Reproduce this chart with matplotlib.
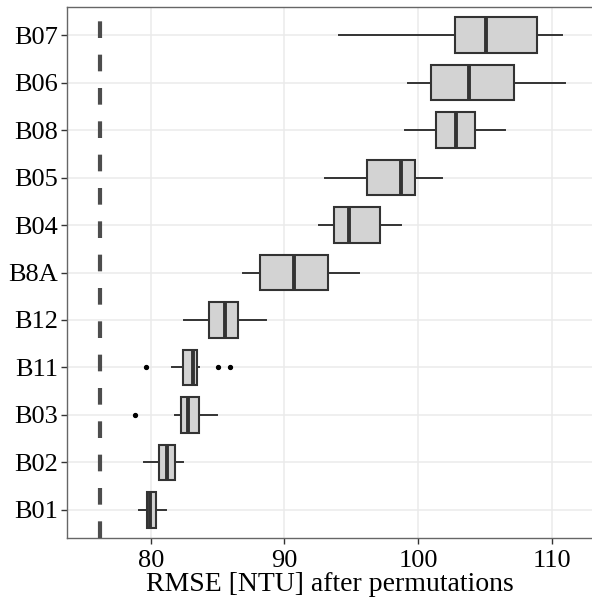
import matplotlib
matplotlib.use("Agg")
import matplotlib.pyplot as plt

plt.rcParams['font.family'] = ['Liberation Serif', 'DejaVu Serif']

# bands, bottom to top
bands = ["B01", "B02", "B03", "B11", "B12", "B8A", "B04", "B05", "B08", "B06", "B07"]
whislo = [79.10, 79.52, 81.84, 81.62, 82.52, 86.90, 92.56, 93.04, 99.05, 99.27, 94.10]
q1 =     [79.70, 80.60, 82.27, 82.42, 84.39, 88.17, 93.69, 96.18, 101.31, 100.96, 102.78]
med =    [79.95, 81.20, 82.79, 83.14, 85.53, 90.72, 94.81, 98.70, 102.81, 103.83, 105.05]
q3 =     [80.42, 81.82, 83.61, 83.46, 86.55, 93.28, 97.15, 99.77, 104.28, 107.20, 108.89]
whishi = [81.17, 82.44, 84.96, 83.61, 88.60, 95.60, 98.74, 101.81, 106.50, 111.00, 110.74]
outliers = [[], [], [78.80], [79.67, 85.03, 85.90], [], [], [], [], [], [], []]
baseline_rmse = 76.23

stats = []
for i, b in enumerate(bands):
    stats.append(dict(label=b, whislo=whislo[i], q1=q1[i], med=med[i],
                      q3=q3[i], whishi=whishi[i], fliers=outliers[i]))

fig = plt.figure(figsize=(5.92, 5.98), dpi=100)
ax = fig.add_axes([67 / 592, (598 - 538.3) / 598, 1 - 67 / 592, (538.3 - 6.7) / 598])

pos = list(range(1, len(bands) + 1))
ax.bxp(stats, positions=pos, vert=False, widths=0.75, patch_artist=True,
       showcaps=False,
       boxprops=dict(facecolor='#d3d3d3', edgecolor='#333333', linewidth=1.5),
       medianprops=dict(color='#333333', linewidth=2.8),
       whiskerprops=dict(color='#333333', linewidth=1.4),
       flierprops=dict(marker='o', markersize=2.8, markerfacecolor='black',
                       markeredgecolor='black', linestyle='none'),
       zorder=3)

ax.axvline(baseline_rmse, color='#4d4d4d', linewidth=3, linestyle=(0, (4, 4)), zorder=4)

ax.set_xlim(73.74, 113.0)
ax.set_ylim(0.4, len(bands) + 0.6)
ax.set_xticks([80, 90, 100, 110])
ax.set_yticks(pos)
ax.set_yticklabels(bands)
ax.grid(True, color='#ebebeb', linewidth=1.1, zorder=0)
ax.set_axisbelow(True)

for s in ['left', 'bottom', 'top']:
    ax.spines[s].set_color('#666666')
    ax.spines[s].set_linewidth(1.0)
ax.spines['right'].set_visible(False)
ax.tick_params(axis='both', length=4, width=1, color='#333333', labelsize=19,
               labelcolor='black')
ax.tick_params(axis='y', pad=2.5)
ax.tick_params(axis='x', pad=4.5)
ax.set_xlabel("RMSE [NTU] after permutations", fontsize=20, labelpad=0)

fig.savefig("out.png", dpi=100)
